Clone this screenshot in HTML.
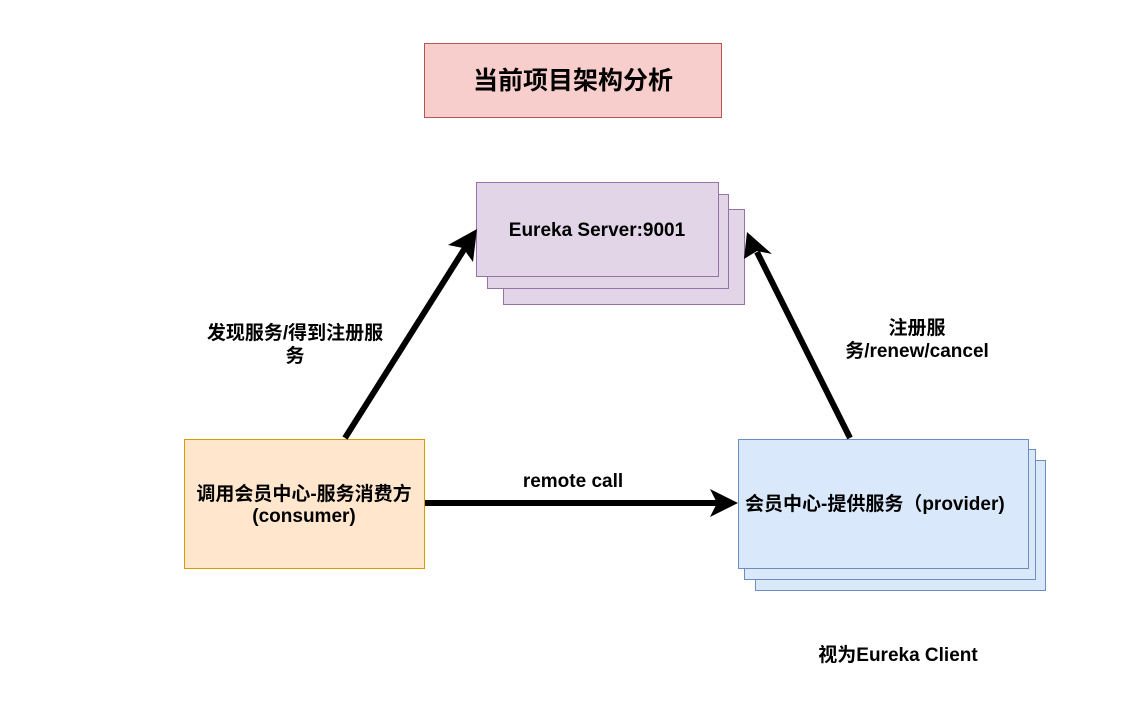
<!DOCTYPE html>
<html><head><meta charset="utf-8"><style>
html,body{margin:0;padding:0;background:#fff;width:1136px;height:701px;overflow:hidden}
svg text{font-family:"Liberation Sans","Noto Sans CJK SC",sans-serif;font-weight:bold;fill:#000}
</style></head><body>
<svg width="1136" height="701" viewBox="0 0 1136 701" xmlns="http://www.w3.org/2000/svg">
<rect x="424.5" y="43.5" width="297" height="74" fill="#f8cecc" stroke="#b85450"/>
<text x="573" y="89" font-size="25" text-anchor="middle">当前项目架构分析</text>

<rect x="503.5" y="209.5" width="241" height="95" fill="#e1d5e7" stroke="#9673a6"/>
<rect x="487.5" y="194.5" width="241" height="94" fill="#e1d5e7" stroke="#9673a6"/>
<rect x="476.5" y="182.5" width="242" height="94" fill="#e1d5e7" stroke="#9673a6"/>
<text x="597" y="236" font-size="19" text-anchor="middle">Eureka Server:9001</text>

<rect x="755.5" y="460.5" width="290" height="130" fill="#dae8fc" stroke="#6c8ebf"/>
<rect x="744.5" y="449.5" width="291" height="130" fill="#dae8fc" stroke="#6c8ebf"/>
<rect x="738.5" y="439.5" width="290" height="129" fill="#dae8fc" stroke="#6c8ebf"/>
<text x="745" y="510" font-size="19">会员中心-提供服务（provider)</text>

<rect x="184.5" y="439.5" width="240" height="129" fill="#ffe6cc" stroke="#d79b00"/>
<text x="304" y="500" font-size="19" text-anchor="middle">调用会员中心-服务消费方</text>
<text x="304" y="522" font-size="19" text-anchor="middle">(consumer)</text>

<line x1="345" y1="438" x2="465" y2="248" stroke="#000" stroke-width="6"/>
<polygon points="477,229 473,262 463,248 448,245" fill="#000"/>
<line x1="850" y1="438" x2="757" y2="252" stroke="#000" stroke-width="6"/>
<polygon points="747,232 772,254 757,251 744,259" fill="#000"/>
<line x1="425" y1="503" x2="718" y2="503" stroke="#000" stroke-width="6"/>
<polygon points="738,503 710,517 717,503 710,489" fill="#000"/>

<text x="295" y="339" font-size="19" text-anchor="middle">发现服务/得到注册服</text>
<text x="295" y="362" font-size="19" text-anchor="middle">务</text>
<text x="917" y="334" font-size="19" text-anchor="middle">注册服</text>
<text x="917" y="357" font-size="19" text-anchor="middle">务/renew/cancel</text>
<text x="573" y="487" font-size="19" text-anchor="middle">remote call</text>
<text x="898" y="661" font-size="19" text-anchor="middle">视为Eureka Client</text>
</svg>
</body></html>
